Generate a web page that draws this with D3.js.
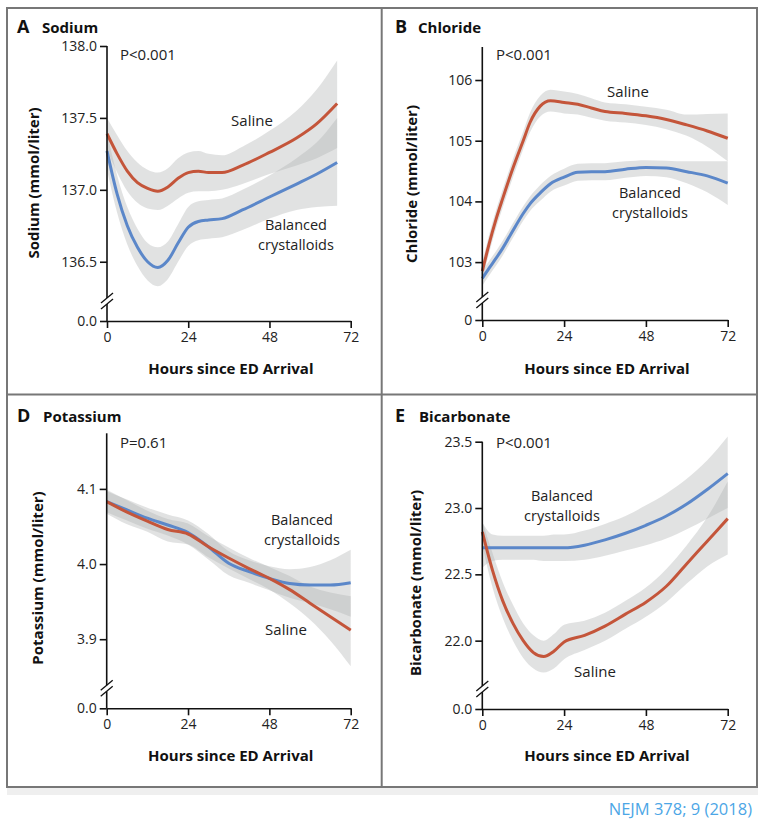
<!DOCTYPE html>
<html>
<head>
<meta charset="utf-8">
<script src="https://cdn.jsdelivr.net/npm/d3@7/dist/d3.min.js"></script>
<style>
  body { margin: 0; background: #fff; }
  text { font-family: "Open Sans", "DejaVu Sans", sans-serif; fill: #222; }
</style>
</head>
<body>
<svg id="chart" width="768" height="823"></svg>
<script>
// ---- data ----
// A: sodium
var naHours = [0, 3, 6, 9, 12, 15, 18, 21, 24, 27, 30, 34, 40, 48, 56, 62, 68];
var naSaline   = [137.39, 137.25, 137.13, 137.05, 137.01, 136.99, 137.02, 137.08, 137.12, 137.13, 137.12, 137.12, 137.17, 137.26, 137.36, 137.46, 137.60];
var naSalineHi = [137.50, 137.38, 137.27, 137.19, 137.14, 137.12, 137.15, 137.22, 137.26, 137.27, 137.25, 137.24, 137.30, 137.41, 137.55, 137.70, 137.90];
var naSalineLo = [137.28, 137.12, 136.99, 136.91, 136.87, 136.86, 136.89, 136.94, 136.98, 136.99, 136.99, 137.00, 137.04, 137.11, 137.17, 137.22, 137.29];
var naBalanced   = [137.27, 136.97, 136.75, 136.60, 136.50, 136.46, 136.51, 136.63, 136.74, 136.78, 136.79, 136.80, 136.86, 136.95, 137.04, 137.11, 137.19];
var naBalancedHi = [137.40, 137.10, 136.88, 136.73, 136.63, 136.60, 136.64, 136.76, 136.88, 136.92, 136.93, 136.94, 137.00, 137.10, 137.22, 137.33, 137.50];
var naBalancedLo = [137.14, 136.84, 136.62, 136.47, 136.37, 136.33, 136.38, 136.50, 136.61, 136.65, 136.66, 136.67, 136.72, 136.80, 136.86, 136.88, 136.89];

// B: chloride
var clHours = [0, 2, 4, 6, 9, 12, 14, 17, 20, 24, 28, 32, 36, 42, 48, 54, 60, 66, 72];
var clSaline   = [102.85, 103.30, 103.70, 104.05, 104.55, 105.00, 105.30, 105.57, 105.66, 105.63, 105.60, 105.54, 105.48, 105.45, 105.41, 105.35, 105.26, 105.16, 105.04];
var clSalineHi = [103.00, 103.45, 103.85, 104.20, 104.70, 105.15, 105.46, 105.74, 105.84, 105.81, 105.77, 105.70, 105.63, 105.60, 105.56, 105.51, 105.43, 105.44, 105.45];
var clSalineLo = [102.70, 103.15, 103.55, 103.90, 104.40, 104.86, 105.14, 105.40, 105.48, 105.45, 105.43, 105.38, 105.33, 105.30, 105.26, 105.19, 105.08, 104.90, 104.66];
var clBalanced   = [102.73, 102.90, 103.06, 103.23, 103.52, 103.80, 103.96, 104.14, 104.29, 104.40, 104.48, 104.49, 104.49, 104.53, 104.56, 104.55, 104.49, 104.42, 104.30];
var clBalancedHi = [102.85, 103.02, 103.18, 103.35, 103.64, 103.92, 104.08, 104.27, 104.42, 104.54, 104.62, 104.63, 104.63, 104.66, 104.68, 104.67, 104.66, 104.66, 104.66];
var clBalancedLo = [102.61, 102.78, 102.94, 103.11, 103.40, 103.68, 103.84, 104.01, 104.16, 104.26, 104.34, 104.35, 104.35, 104.39, 104.42, 104.40, 104.30, 104.15, 103.94];

// D: potassium
var kHours = [0, 6, 12, 18, 24, 30, 36, 42, 48, 54, 60, 66, 72];
var kSaline   = [4.083, 4.069, 4.057, 4.046, 4.040, 4.023, 4.008, 3.994, 3.981, 3.966, 3.948, 3.930, 3.912];
var kSalineHi = [4.099, 4.085, 4.071, 4.060, 4.054, 4.037, 4.022, 4.008, 3.996, 3.984, 3.970, 3.962, 3.957];
var kSalineLo = [4.067, 4.053, 4.043, 4.030, 4.026, 4.009, 3.994, 3.980, 3.966, 3.948, 3.926, 3.898, 3.864];
var kBalanced   = [4.083, 4.072, 4.061, 4.052, 4.042, 4.023, 4.001, 3.990, 3.981, 3.974, 3.972, 3.972, 3.975];
var kBalancedHi = [4.097, 4.086, 4.075, 4.066, 4.058, 4.040, 4.017, 4.005, 3.997, 3.993, 3.996, 4.005, 4.019];
var kBalancedLo = [4.069, 4.058, 4.047, 4.038, 4.026, 4.006, 3.985, 3.975, 3.965, 3.955, 3.948, 3.940, 3.930];

// E: bicarbonate
var bcHours = [0, 3, 6, 9, 12, 15, 18, 21, 24, 30, 36, 42, 48, 54, 60, 66, 72];
var bcSaline   = [22.82, 22.53, 22.30, 22.13, 22.00, 21.91, 21.88, 21.92, 21.99, 22.04, 22.11, 22.20, 22.29, 22.41, 22.58, 22.75, 22.92];
var bcSalineHi = [22.90, 22.66, 22.44, 22.27, 22.13, 22.04, 22.00, 22.05, 22.12, 22.15, 22.21, 22.30, 22.40, 22.54, 22.72, 22.93, 23.20];
var bcSalineLo = [22.72, 22.40, 22.17, 22.00, 21.87, 21.79, 21.76, 21.79, 21.86, 21.93, 22.00, 22.09, 22.18, 22.29, 22.43, 22.56, 22.65];
var bcBalanced   = [22.70, 22.70, 22.70, 22.70, 22.70, 22.70, 22.70, 22.70, 22.70, 22.72, 22.76, 22.81, 22.87, 22.94, 23.03, 23.14, 23.26];
var bcBalancedHi = [22.89, 22.80, 22.79, 22.79, 22.79, 22.79, 22.79, 22.80, 22.80, 22.83, 22.88, 22.94, 23.02, 23.11, 23.22, 23.36, 23.54];
var bcBalancedLo = [22.55, 22.60, 22.61, 22.61, 22.61, 22.61, 22.60, 22.60, 22.60, 22.61, 22.64, 22.68, 22.72, 22.77, 22.84, 22.92, 23.00];

var xTicks = [0, 24, 48, 72];
var naTicks = [0, 136.5, 137.0, 137.5, 138.0];
var clTicks = [0, 103, 104, 105, 106];
var kTicks  = [0, 3.9, 4.0, 4.1];
var bcTicks = [0, 22.0, 22.5, 23.0, 23.5];

var salineColor = "#c4553a";
var balancedColor = "#5b87c9";

function series(hours, mean, lo, hi) {
  return hours.map(function(h, i){ return {h: h, v: mean[i], lo: lo[i], hi: hi[i]}; });
}

// panel layout (positions only, values come from the arrays above)
var panels = [
  {letter: "A", title: "Sodium", lx: 17, tx: 42, ty: 33,
   x0: 107, x1: 350.7, zeroY: 321, topY: 46, topVal: 138.0, breakVal: 136.234,
   ticks: naTicks, fmt: d3.format(".1f"), yLabel: "Sodium (mmol/liter)", ylx: 39, yly: 183,
   p: "P<0.001", px: 120, py: 60, xly: 374,
   saline: series(naHours, naSaline, naSalineLo, naSalineHi),
   balanced: series(naHours, naBalanced, naBalancedLo, naBalancedHi),
   salLab: [252, 126], balLab: [296, 230]},
  {letter: "B", title: "Chloride", lx: 395, tx: 418, ty: 33,
   x0: 482.3, x1: 727.7, zeroY: 320, topY: 47, topVal: 106.544, breakVal: 102.392,
   ticks: clTicks, fmt: d3.format("d"), yLabel: "Chloride (mmol/liter)", ylx: 417, yly: 184,
   p: "P<0.001", px: 496, py: 60, xly: 374,
   saline: series(clHours, clSaline, clSalineLo, clSalineHi),
   balanced: series(clHours, clBalanced, clBalancedLo, clBalancedHi),
   salLab: [628, 97], balLab: [650, 198]},
  {letter: "D", title: "Potassium", lx: 17, tx: 43, ty: 422,
   x0: 106.7, x1: 350.7, zeroY: 708.3, topY: 433.3, topVal: 4.174, breakVal: 3.836,
   ticks: kTicks, fmt: d3.format(".1f"), yLabel: "Potassium (mmol/liter)", ylx: 43, yly: 578,
   p: "P=0.61", px: 120, py: 448, xly: 761,
   saline: series(kHours, kSaline, kSalineLo, kSalineHi),
   balanced: series(kHours, kBalanced, kBalancedLo, kBalancedHi),
   salLab: [286, 635], balLab: [302, 525]},
  {letter: "E", title: "Bicarbonate", lx: 395, tx: 419, ty: 422,
   x0: 482.3, x1: 727.7, zeroY: 709, topY: 441.7, topVal: 23.5, breakVal: 21.643,
   ticks: bcTicks, fmt: d3.format(".1f"), yLabel: "Bicarbonate (mmol/liter)", ylx: 421, yly: 583,
   p: "P<0.001", px: 496, py: 448, xly: 761,
   saline: series(bcHours, bcSaline, bcSalineLo, bcSalineHi),
   balanced: series(bcHours, bcBalanced, bcBalancedLo, bcBalancedHi),
   salLab: [595, 677], balLab: [562, 501]}
];

var svg = d3.select("#chart");

// frame
svg.append("rect").attr("x", 7).attr("y", 788).attr("width", 751).attr("height", 7).attr("fill", "#efefef");
svg.append("rect").attr("x", 7).attr("y", 8).attr("width", 750).attr("height", 779)
  .attr("fill", "none").attr("stroke", "#777").attr("stroke-width", 2);
svg.append("line").attr("x1", 381.7).attr("x2", 381.7).attr("y1", 8).attr("y2", 787)
  .attr("stroke", "#777").attr("stroke-width", 2);
svg.append("line").attr("x1", 7).attr("x2", 757).attr("y1", 394.5).attr("y2", 394.5)
  .attr("stroke", "#777").attr("stroke-width", 2);

panels.forEach(function(p){
  var g = svg.append("g");
  var breakY = p.zeroY - 21;
  var x = d3.scaleLinear().domain([0, 72]).range([p.x0, p.x1]);
  var y = d3.scaleLinear().domain([0, p.breakVal, p.topVal]).range([p.zeroY, breakY, p.topY]);

  var area = d3.area().curve(d3.curveMonotoneX)
    .x(function(d){ return x(d.h); })
    .y0(function(d){ return y(d.lo); })
    .y1(function(d){ return y(d.hi); });
  var line = d3.line().curve(d3.curveMonotoneX)
    .x(function(d){ return x(d.h); })
    .y(function(d){ return y(d.v); });

  [p.saline, p.balanced].forEach(function(s){
    g.append("path").datum(s).attr("d", area)
      .attr("fill", "#b0b2b4").attr("fill-opacity", 0.38);
  });
  g.append("path").datum(p.balanced).attr("d", line)
    .attr("fill", "none").attr("stroke", balancedColor).attr("stroke-width", 3);
  g.append("path").datum(p.saline).attr("d", line)
    .attr("fill", "none").attr("stroke", salineColor).attr("stroke-width", 3);

  // x axis
  var xAxis = d3.axisBottom(x).tickValues(xTicks).tickSize(7).tickSizeOuter(0).tickPadding(4);
  var xg = g.append("g").attr("transform", "translate(0," + p.zeroY + ")").call(xAxis);
  xg.select(".domain").attr("stroke", "#111").attr("stroke-width", 1.6);
  xg.selectAll(".tick line").attr("stroke", "#111").attr("stroke-width", 1.6);
  xg.selectAll(".tick text").attr("font-size", 14).attr("font-family", "Open Sans").attr("fill", "#222");

  // y axis, domain drawn by hand for the break
  var yAxis = d3.axisLeft(y).tickValues(p.ticks).tickFormat(p.fmt).tickSize(7).tickPadding(3);
  var yg = g.append("g").attr("transform", "translate(" + p.x0 + ",0)").call(yAxis);
  yg.select(".domain").remove();
  yg.selectAll(".tick line").attr("stroke", "#111").attr("stroke-width", 1.6);
  yg.selectAll(".tick text").attr("font-size", 14).attr("font-family", "Open Sans").attr("fill", "#222");
  g.append("line").attr("x1", p.x0).attr("x2", p.x0).attr("y1", p.topY).attr("y2", breakY - 2)
    .attr("stroke", "#111").attr("stroke-width", 1.6);
  g.append("line").attr("x1", p.x0).attr("x2", p.x0).attr("y1", breakY + 4).attr("y2", p.zeroY)
    .attr("stroke", "#111").attr("stroke-width", 1.6);
  [-2, 4].forEach(function(o){
    g.append("line").attr("x1", p.x0 - 6).attr("y1", breakY + o + 5)
      .attr("x2", p.x0 + 6).attr("y2", breakY + o - 5)
      .attr("stroke", "#111").attr("stroke-width", 1.3);
  });

  // titles and labels
  g.append("text").attr("x", p.lx).attr("y", p.ty).attr("font-size", 18).attr("font-weight", 700)
    .style("fill", "#111").text(p.letter);
  g.append("text").attr("x", p.tx).attr("y", p.ty).attr("font-size", 15).attr("font-weight", 700)
    .style("fill", "#111").text(p.title);
  g.append("text").attr("x", p.px).attr("y", p.py).attr("font-size", 15).text(p.p);
  g.append("text").attr("x", (p.x0 + p.x1) / 2 + 2).attr("y", p.xly).attr("text-anchor", "middle")
    .attr("font-size", 15).attr("font-weight", 700).style("fill", "#111").text("Hours since ED Arrival");
  g.append("text").attr("transform", "translate(" + p.ylx + "," + p.yly + ") rotate(-90)")
    .attr("text-anchor", "middle").attr("font-size", 15).attr("font-weight", 700)
    .style("fill", "#111").text(p.yLabel);
  g.append("text").attr("x", p.salLab[0]).attr("y", p.salLab[1]).attr("text-anchor", "middle")
    .attr("font-size", 15).text("Saline");
  // two-line label, spaced so the lines' boxes do not touch
  var bt = g.append("text").attr("x", p.balLab[0]).attr("y", p.balLab[1])
    .attr("text-anchor", "middle").attr("font-size", 14.5);
  bt.append("tspan").attr("x", p.balLab[0]).text("Balanced");
  bt.append("tspan").attr("x", p.balLab[0]).attr("dy", 20).text("crystalloids");
});

svg.append("text").attr("x", 752).attr("y", 815).attr("text-anchor", "end")
  .attr("font-size", 16.5).style("fill", "#4ca6e6").text("NEJM 378; 9 (2018)");
</script>
</body>
</html>
